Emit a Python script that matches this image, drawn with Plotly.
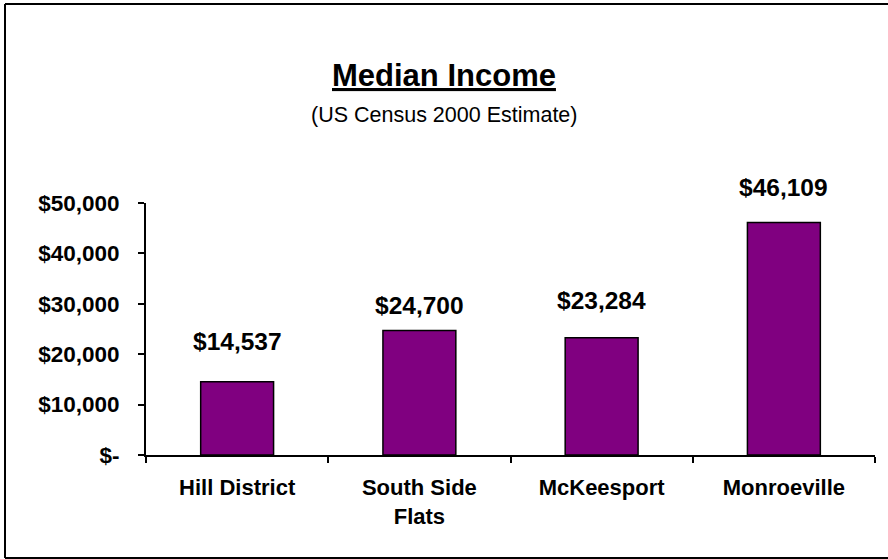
import plotly.graph_objects as go

# Median household income by neighborhood
areas = ["Hill District", "South Side<br>Flats", "McKeesport", "Monroeville"]
median_income = [14537, 24700, 23284, 46109]
value_labels = ["$14,537", "$24,700", "$23,284", "$46,109"]

y_tick_values = [0, 10000, 20000, 30000, 40000, 50000]
y_tick_labels = ["$-", "$10,000", "$20,000", "$30,000", "$40,000", "$50,000"]

# vertical lift (px) of each value label above its bar
label_lift = [40, 25, 37, 35]

FONT = "Liberation Sans, Arial, sans-serif"
PURPLE = "#800080"

fig = go.Figure()
fig.add_trace(go.Bar(
    x=areas,
    y=median_income,
    marker=dict(color=PURPLE, line=dict(color="black", width=1.5)),
    hoverinfo="skip",
))

for a, v, t, lift in zip(areas, median_income, value_labels, label_lift):
    fig.add_annotation(
        x=a, y=v, text=f"<b>{t}</b>", showarrow=False,
        yanchor="middle", yshift=lift,
        font=dict(family=FONT, size=24.5, color="black"),
    )

# plot-area geometry in pixels
W, H = 888, 559
L, R, T, B = 146, 875, 203, 455
pw, ph = R - L, B - T

def px_x(x):
    return (x - L) / pw

def px_y(y):
    return (B - y) / ph

# outer chart frame: left, top and bottom edges (right edge runs off the page)
frame_edges = [
    (5, 4, 5, 558),
    (5, 4, 1400, 4),
    (5, 558, 1400, 558),
]
for x0, y0, x1, y1 in frame_edges:
    fig.add_shape(
        type="line", xref="paper", yref="paper",
        x0=px_x(x0), y0=px_y(y0), x1=px_x(x1), y1=px_y(y1),
        line=dict(color="black", width=2),
    )

fig.add_annotation(
    xref="paper", yref="paper", x=px_x(444), y=px_y(75),
    text="<b><u>Median Income</u></b>", showarrow=False,
    xanchor="center", yanchor="middle",
    font=dict(family=FONT, size=31, color="black"),
)
fig.add_annotation(
    xref="paper", yref="paper", x=px_x(444), y=px_y(115),
    text="(US Census 2000 Estimate)", showarrow=False,
    xanchor="center", yanchor="middle",
    font=dict(family=FONT, size=21.5, color="black"),
)

fig.update_layout(
    width=W, height=H,
    margin=dict(l=L, r=W - R, t=T, b=H - B, pad=0),
    paper_bgcolor="white", plot_bgcolor="white",
    showlegend=False,
    bargap=0.6,
    font=dict(family=FONT, color="black"),
)
fig.update_xaxes(
    showline=True, linecolor="black", linewidth=2,
    ticks="outside", tickson="boundaries", ticklen=6, tickwidth=2, tickcolor="black",
    tickfont=dict(family=FONT, size=22, color="black"),
    tickprefix="<b>", ticksuffix="</b>",
    ticklabelstandoff=12,
    showgrid=False, zeroline=False, fixedrange=True,
)
fig.update_yaxes(
    range=[0, 50000],
    tickvals=y_tick_values, ticktext=[f"<b>{t}</b>" for t in y_tick_labels],
    showline=True, linecolor="black", linewidth=2,
    ticks="outside", ticklen=6, tickwidth=2, tickcolor="black",
    tickfont=dict(family=FONT, size=22.5, color="black"),
    ticklabelstandoff=14,
    showgrid=False, zeroline=False, fixedrange=True,
)

fig.write_html("out.html", config={"displayModeBar": False})
